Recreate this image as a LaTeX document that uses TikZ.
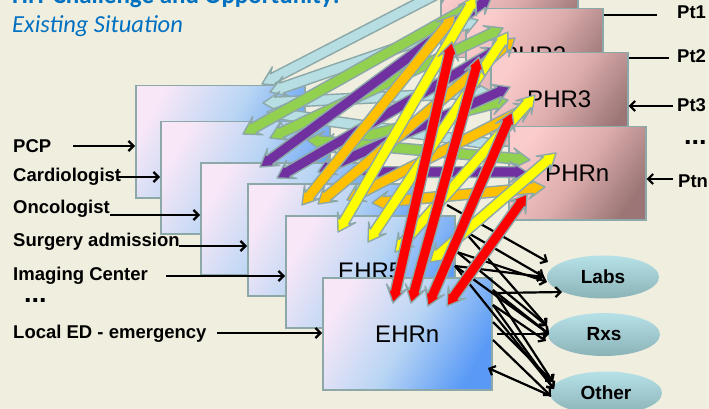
\documentclass[tikz,border=0pt]{standalone}
\usepackage{fontspec}
\setmainfont{Liberation Sans}
\newfontfamily\headfont{Carlito}
\usetikzlibrary{calc,arrows.meta,shapes.geometric}

\definecolor{paper}{HTML}{F0EEDF}
\definecolor{edgegray}{HTML}{8CA8A8}
\definecolor{titleblue}{HTML}{0070C0}
\definecolor{ehrA}{HTML}{F7E7F7}
\definecolor{ehrB}{HTML}{B8D5F4}
\definecolor{ehrC}{HTML}{5A9AF6}
\definecolor{phrA}{HTML}{FBCCCC}
\definecolor{phrB}{HTML}{DDADAD}
\definecolor{phrC}{HTML}{9C7676}
\definecolor{ovalA}{HTML}{B6E1E7}
\definecolor{ovalB}{HTML}{8AB3B7}
\definecolor{flowblue}{HTML}{B7DEE2}
\definecolor{flowgreen}{HTML}{92D050}
\definecolor{flowpurple}{HTML}{7030A0}
\definecolor{floworange}{HTML}{FFC000}
\definecolor{flowyellow}{HTML}{FFFF00}
\definecolor{flowred}{HTML}{FF0000}

% double-headed block arrow with swept-back heads: #1 fill, #2 and #3 the two tips
\newcommand\blockarrow[3]{%
  \path (#2) coordinate (ba-a) (#3) coordinate (ba-b);
  \path ($(ba-a)!17pt!(ba-b)$) coordinate (ba-ha)
        ($(ba-b)!17pt!(ba-a)$) coordinate (ba-hb)
        ($(ba-a)!12pt!(ba-b)$) coordinate (ba-na)
        ($(ba-b)!12pt!(ba-a)$) coordinate (ba-nb);
  \filldraw[fatedge, fill=#1]
    (ba-a) -- ($(ba-ha)!10.5pt!-90:(ba-b)$) -- ($(ba-na)!5.3pt!-90:(ba-b)$)
    -- ($(ba-nb)!5.3pt!90:(ba-a)$) -- ($(ba-hb)!10.5pt!90:(ba-a)$) -- (ba-b)
    -- ($(ba-hb)!10.5pt!-90:(ba-a)$) -- ($(ba-nb)!5.3pt!-90:(ba-a)$)
    -- ($(ba-na)!5.3pt!90:(ba-b)$) -- ($(ba-ha)!10.5pt!90:(ba-b)$) -- cycle;
}

\begin{document}
\begin{tikzpicture}[x=1pt,y=-1pt,
  ehrbox/.style={draw=edgegray, line width=1.5pt, top color=ehrA, bottom color=ehrC,
    middle color=ehrB, shading angle=60, minimum width=169pt, minimum height=112pt,
    anchor=north west, inner sep=0, font=\fontsize{24}{28}\selectfont},
  phrbox/.style={draw=edgegray, line width=1.5pt, top color=phrA, bottom color=phrC,
    middle color=phrB, shading angle=55, minimum width=137pt, minimum height=93pt,
    anchor=north west, inner sep=0, font=\fontsize{24}{28}\selectfont},
  oval/.style={ellipse, minimum width=112pt, minimum height=43pt, inner sep=0,
    top color=ovalA, bottom color=ovalB, font=\bfseries\fontsize{19}{22}\selectfont},
  lbl/.style={anchor=base west, inner sep=0, font=\bfseries\fontsize{18.5}{22}\selectfont},
  dots/.style={anchor=base west, inner sep=0, font=\bfseries\fontsize{27}{27}\selectfont},
  feed/.style={line width=2.2pt, -{Straight Barb[length=5pt,width=10pt]}},
  plain/.style={line width=2pt},
  fatedge/.style={draw=edgegray, line width=1.4pt, line join=round}]

\useasboundingbox (0,0) rectangle (709,409);
\clip (0,0) rectangle (709,409);
\fill[paper] (0,0) rectangle (709,409);

% heading
\node[anchor=base west, inner sep=0, text=titleblue,
  font=\headfont\bfseries\fontsize{25}{30}\selectfont] (title) at (12,4)
  {HIT Challenge and Opportunity:};
\node[anchor=base west, inner sep=0, text=titleblue,
  font=\headfont\itshape\fontsize{24.5}{30}\selectfont] (subtitle) at (12,33)
  {Existing Situation};

% stack of provider EHRs
\node[ehrbox] (ehr1) at (135,85) {};
\node[ehrbox] (ehr2) at (160,121) {};
\node[ehrbox] (ehr3) at (200,162) {};
\node[ehrbox] (ehr4) at (247,183) {};
\node[ehrbox] (ehr5) at (285,215) {EHR5};
\node[ehrbox] (ehrn) at (322,277) {EHRn};

% stack of patient PHRs
\node[phrbox] (phr1) at (440,-36) {};
\node[phrbox] (phr2) at (465,8) {PHR2};
\node[phrbox] (phr3) at (490,52) {PHR3};
\node[phrbox] (phrn) at (508,126) {PHRn};

% outside services
\node[oval] (labs) at (603,277) {Labs};
\node[oval] (rxs) at (604,334.5) {Rxs};
\node[oval] (other) at (606,393) {Other};

% links from the EHRs to the services
\coordinate (s1) at (447,205);
\coordinate (s2) at (463,230);
\coordinate (s3) at (457,252);
\coordinate (s4) at (455,266);
\coordinate (s5) at (493,290);
\coordinate (s6) at (493,305);
\coordinate (s7) at (493,322);
\coordinate (s8) at (493,340);
\coordinate (s9) at (497,293);
\coordinate (s10) at (497,334);
\coordinate (l1) at (548,262);
\coordinate (l2) at (544,277);
\coordinate (l3) at (547,282);
\coordinate (l4) at (562,292);
\coordinate (r1) at (547,326);
\coordinate (r2) at (549,334);
\coordinate (r3) at (546,341);
\coordinate (o1) at (553,382);
\coordinate (o2) at (554,389);
\coordinate (o3) at (551,396);
\coordinate (back) at (488,368);
\foreach \s/\t in {s1/l1, s2/l2, s3/l3, s4/l2, s9/l4, s2/r1, s3/r1, s4/r2, s5/r2,
                   s6/r3, s10/r2, s5/o1, s6/o2, s7/o1, s8/o3, s4/o2}
  \draw[feed] (\s) -- (\t);
\draw[feed] (o3) -- (back);

% data flows between each EHR and every PHR
\blockarrow{flowblue}{262,84}{452,-14}
\blockarrow{flowblue}{270,92}{478,20}
\blockarrow{flowblue}{263,103}{492,92}
\blockarrow{flowblue}{267,112}{505,146}

\blockarrow{flowgreen}{243,134}{485,-2}
\blockarrow{flowgreen}{270,138}{503,28}
\blockarrow{flowgreen}{320,148}{508,100}
\blockarrow{flowgreen}{307,140}{530,160}

\blockarrow{flowpurple}{260,167}{492,-4}
\blockarrow{flowpurple}{277,178}{500,48}
\blockarrow{flowpurple}{318,172}{510,87}
\blockarrow{flowpurple}{357,172}{527,172}

\blockarrow{floworange}{302,205}{455,15}
\blockarrow{floworange}{318,204}{515,38}
\blockarrow{floworange}{347,200}{533,105}
\blockarrow{floworange}{372,203}{545,187}

\blockarrow{flowyellow}{338,232}{476,-4}
\blockarrow{flowyellow}{368,242}{508,32}
\blockarrow{flowyellow}{395,252}{535,95}
\blockarrow{flowyellow}{430,262}{556,153}

\blockarrow{flowred}{393,303}{452,42}
\blockarrow{flowred}{411,303}{479,57}
\blockarrow{flowred}{428,306}{512,112}
\blockarrow{flowred}{447,306}{527,194}

% care providers
\node[lbl] (pcp) at (13,152) {PCP};
\node[lbl] (cardio) at (13,181) {Cardiologist};
\node[lbl] (onco) at (13,213) {Oncologist};
\node[lbl] (surg) at (13,246) {Surgery admission};
\node[lbl] (imaging) at (13,280) {Imaging Center};
\node[dots] (moreleft) at (24,302) {...};
\node[lbl] (ed) at (13,338) {Local ED - emergency};

\coordinate (t-pcp) at (73,146);
\coordinate (t-cardio) at (118,177);
\coordinate (t-onco) at (110,215);
\coordinate (t-surg) at (179,246);
\coordinate (t-imaging) at (166,276);
\coordinate (t-ed) at (217,333);
\draw[feed] (t-pcp) -- (t-pcp -| ehr1.west);
\draw[feed] (t-cardio) -- (t-cardio -| ehr2.west);
\draw[feed] (t-onco) -- (t-onco -| ehr3.west);
\draw[feed] (t-surg) -- (t-surg -| ehr4.west);
\draw[feed] (t-imaging) -- (t-imaging -| ehr5.west);
\draw[feed] (t-ed) -- (t-ed -| ehrn.west);

% patients
\node[lbl] (pt1) at (677,19) {Pt1};
\node[lbl] (pt2) at (677,63) {Pt2};
\node[lbl] (pt3) at (677,112) {Pt3};
\node[dots] (moreright) at (684,145) {...};
\node[lbl] (ptn) at (678,187) {Ptn};

\coordinate (t-pt1) at (657,15);
\coordinate (t-pt2) at (669,58);
\coordinate (t-pt3) at (673,106);
\coordinate (t-ptn) at (673,179);
\draw[plain] (t-pt1) -- (t-pt1 -| phr2.east);
\draw[plain] (t-pt2) -- (t-pt2 -| phr3.east);
\draw[feed] (t-pt3) -- (t-pt3 -| phr3.east);
\draw[feed] (t-ptn) -- (t-ptn -| phrn.east);
\end{tikzpicture}
\end{document}
